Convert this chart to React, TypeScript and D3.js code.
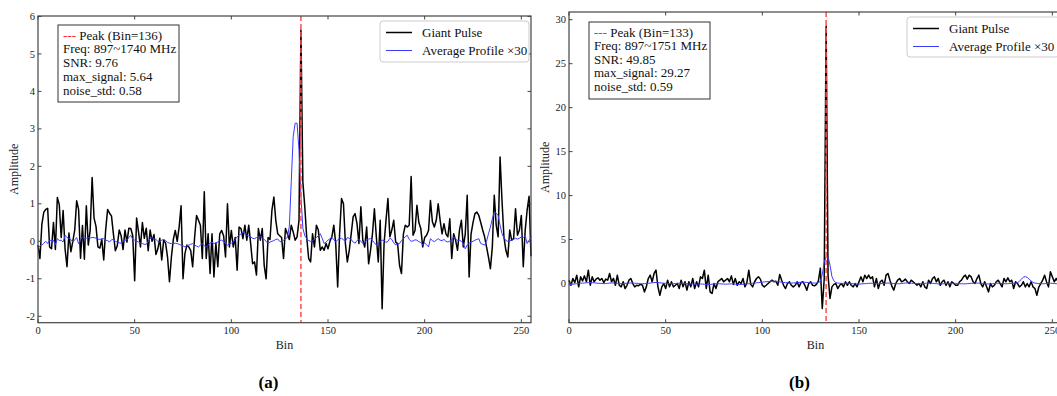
import { useRef, useEffect } from "react";
import * as d3 from "d3";

// Giant pulse profile, panel (a), bins 0..255
const gpA = [
  -0.1, -0.46, 0.45, 0.78, 0.85, 0.88, -0.15, -0.2, 0.5, -0.22, 1.17, 0.98, 0.1, 0.82, -0.2, -0.68,
  0.22, -0.28, 0.0, 0.3, 1.08, 0.85, -0.45, 0.42, -0.48, 0.95, -0.1, 0.3, 1.7, 0.62, 0.4, -0.15,
  -0.18, 0.05, -0.5, 0.3, 0.85, 0.75, 0.68, 0.2, -0.25, -0.12, 0.3, 0.15, -0.22, 0.3, -0.02, 0.35,
  0.34, 0.15, -1.05, 0.62, 0.25, -0.15, 0.5, 0.08, 0.35, -0.25, 0.3, 0.0, 0.18, -0.35, -0.2, 0.08,
  -0.5, 0.03, -0.05, -0.42, -1.08, -0.42, 0.05, 0.29, 0.0, 0.38, 0.95, -1.0, -0.33, -0.1, -0.15, -0.25,
  -0.68, 0.1, 0.69, 0.56, 0.43, -0.46, 1.32, -0.46, 0.2, -0.86, 0.2, -0.95, -0.05, -0.68, 0.2, 0.29,
  0.15, -0.42, 1.0, -0.15, 0.29, -0.15, 0.1, -0.77, 0.38, 0.34, 0.07, 0.43, 0.03, 0.43, -0.06, -0.6,
  -0.55, -0.9, 0.34, 0.03, 0.34, -0.64, -1.0, 0.1, 0.05, 0.83, 1.18, 0.56, 0.2, 0.15, 0.1, -0.46,
  0.34, 0.2, 0.05, 0.43, 0.25, 0.03, 0.12, 0.56, 5.64, 1.58, 0.92, 0.1, -0.46, -0.55, 0.2, -0.15,
  0.43, 0.3, -0.24, -0.15, -0.24, -0.06, -0.2, 0.0, 0.12, 0.43, -0.06, -1.22, 0.2, 1.14, 1.0, -0.06,
  -0.55, -0.24, 0.2, 0.65, 0.74, 0.47, -0.06, 0.92, 0.03, -0.15, 0.38, -0.6, -0.24, 0.2, 0.87, 0.12,
  -0.55, 0.56, -1.8, -0.06, 0.56, 1.14, 0.12, 0.3, 0.56, -0.02, -0.06, -0.64, -0.86, 0.2, 0.43, 0.38,
  0.43, 1.73, 0.16, 0.29, 0.96, 0.5, 0.34, -0.15, 0.1, 0.16, 0.29, 1.09, 0.52, 0.38, 0.56, 1.0,
  0.56, 0.2, 0.47, 0.2, 0.12, 0.6, -0.46, 0.2, 0.03, -0.24, 0.3, 0.56, -0.15, 0.2, 1.23, -0.95,
  0.2, 0.5, 0.74, 0.78, 0.69, 0.5, 0.3, 0.12, -0.15, -0.42, -0.73, -0.15, 1.23, 0.43, 0.12, 2.25,
  1.09, 0.12, -0.24, -0.42, 0.3, 0.03, 0.07, 0.87, 0.16, 0.3, 0.69, -0.68, 0.3, 0.83, 1.2, -0.4,
];

// Average profile x30, panel (a)
const avgA = [
  -0.18, -0.12, -0.1, -0.05, 0.0, -0.06, 0.03, 0.02, 0.03, -0.1, 0.07, 0.02, 0.03, -0.02, 0.16, 0.1,
  0.08, 0.05, -0.02, 0.04, 0.1, -0.06, 0.05, 0.12, 0.06, 0.08, 0.1, 0.09, 0.1, 0.1, 0.08, 0.06,
  0.05, 0.07, 0.07, 0.03, 0.02, -0.02, 0.04, 0.05, 0.0, -0.02, -0.04, -0.05, 0.0, 0.03, 0.04, 0.1,
  0.16, 0.05, 0.03, 0.0, -0.02, -0.05, -0.06, -0.08, -0.08, 0.0, 0.07, 0.1, 0.06, 0.05, 0.0, -0.02,
  0.03, 0.05, 0.02, -0.03, -0.05, -0.06, -0.06, -0.05, -0.06, -0.08, -0.1, -0.12, -0.15, -0.12, -0.1, -0.08,
  -0.06, -0.1, -0.13, -0.15, -0.1, -0.06, -0.12, -0.16, -0.1, -0.05, -0.02, -0.06, -0.04, -0.02, 0.02, 0.03,
  -0.01, -0.05, -0.1, -0.07, -0.05, -0.02, 0.05, 0.12, 0.16, 0.2, 0.25, 0.22, 0.16, 0.14, 0.12, 0.08,
  0.07, 0.1, 0.12, 0.12, 0.09, 0.05, 0.0, -0.06, -0.02, 0.0, 0.02, 0.05, 0.06, 0.0, -0.02, 0.03,
  0.07, 0.1, 0.4, 1.6, 2.8, 3.15, 3.15, 2.43, 1.2, 0.35, 0.15, 0.07, 0.02, 0.0, 0.02, 0.05,
  0.1, 0.15, 0.2, 0.08, -0.06, -0.02, 0.03, 0.07, 0.1, 0.05, -0.02, 0.04, 0.07, 0.08, 0.04, 0.0,
  0.1, 0.08, 0.05, -0.02, -0.05, 0.02, 0.05, 0.0, -0.06, -0.02, 0.03, 0.06, 0.07, 0.02, -0.04, -0.1,
  -0.05, 0.0, 0.03, 0.02, -0.03, 0.0, 0.08, 0.05, -0.04, -0.1, -0.07, -0.06, 0.02, 0.08, 0.12, 0.16,
  0.05, 0.0, 0.01, 0.04, 0.03, -0.01, -0.03, -0.1, -0.05, -0.09, -0.15, 0.07, 0.02, -0.01, 0.03, 0.07,
  0.03, 0.02, 0.05, 0.0, -0.02, 0.01, 0.03, 0.12, 0.06, 0.02, 0.03, 0.0, -0.06, -0.2, -0.1, -0.05,
  -0.02, 0.0, 0.03, 0.05, 0.07, -0.06, -0.08, -0.1, 0.0, 0.2, 0.38, 0.6, 0.78, 0.75, 0.69, 0.43,
  0.2, 0.1, 0.02, 0.0, 0.01, 0.03, 0.05, 0.08, 0.06, 0.08, 0.12, 0.1, 0.14, -0.06, 0.02, 0.1,
];

// Giant pulse profile, panel (b)
const gpB = [
  0.38, -0.2, 0.57, 0.1, 0.95, -0.38, 0.76, 0.3, 0.87, 0.2, 1.52, -0.2, 0.76, 0.2, 0.5, 0.65,
  0.38, 0.57, 0.1, 0.5, 0.38, 1.14, 0.2, 0.57, -0.2, 0.95, -0.2, -0.38, 0.2, -0.57, -0.2, 0.38,
  0.57, 0.0, -0.38, -0.2, -0.25, -0.1, -0.2, -0.95, -0.38, 0.57, 0.95, 0.2, 1.14, 1.52, -0.38, -1.33,
  -0.38, 0.0, -0.57, 0.38, -0.38, 0.2, -0.38, -0.2, 0.0, -0.57, 0.38, -0.38, 0.2, -0.76, 0.2, -0.38,
  0.57, -0.57, 0.2, -0.38, 0.76, 0.57, 1.52, -0.57, 0.95, -0.95, -1.14, 0.0, -0.57, 0.2, 0.38, 0.57,
  0.2, 0.38, 0.57, 0.2, 0.87, -0.1, 0.57, -0.2, 0.2, 0.0, 0.57, -0.38, 0.1, 1.52, -0.1, -0.38,
  0.2, 0.57, 0.76, 0.5, -0.2, -0.38, -0.2, 0.0, 0.2, 0.38, 0.2, 0.27, -0.2, 1.03, 0.38, -0.2,
  -0.57, 0.0, 0.2, -0.2, -0.38, -0.2, 0.2, -0.38, 0.1, 0.2, -0.2, -0.76, 0.0, 0.2, -0.2, -0.27,
  -0.1, 0.3, 1.75, -2.85, 0.5, 29.27, 0.9, -1.7, -0.38, -0.1, 0.0, -0.57, -0.2, 0.0, -0.38, 0.2,
  -0.2, 0.2, -0.2, -0.38, 0.0, -0.38, 0.2, 0.76, 0.2, 0.95, 0.57, 0.95, 0.57, 0.76, -0.38, 0.57,
  -0.57, 0.2, 0.38, -0.2, 0.95, 1.14, 0.38, -0.3, -0.76, 0.0, 0.38, 0.57, 0.2, 0.3, 0.5, 0.2,
  0.0, 0.38, 0.2, 0.0, -0.2, 0.0, -0.38, 0.2, -0.38, -0.57, 0.38, 0.0, 0.57, 0.76, 0.2, 0.57,
  -0.2, 0.2, 0.38, -0.2, 0.2, -0.38, 0.2, 0.0, -0.2, -0.2, 0.2, 0.38, 0.76, 0.95, 0.5, 0.95,
  0.76, 0.2, 0.0, 0.57, 0.95, 0.0, -0.38, 0.2, -0.38, -0.95, 0.0, -0.38, -0.2, 0.2, 0.38, 0.0,
  -0.38, 0.57, 0.2, 0.65, 0.2, 0.38, -0.57, 0.2, 0.0, -0.38, -0.2, 0.2, -0.38, 0.0, -0.38, 0.2,
  -0.38, -0.57, -1.33, -0.4, 0.0, 0.38, 0.95, 0.2, -0.38, 1.33, 0.76, 0.2, 0.57, 0.2, 0.5, -0.2,
];

// Average profile x30, panel (b)
const avgB = [
  -0.15, -0.1, -0.08, -0.05, -0.02, 0.0, 0.03, 0.05, 0.06, 0.08, 0.1, 0.12, 0.1, 0.08, 0.05, 0.03,
  0.02, 0.0, -0.02, 0.0, 0.02, 0.05, 0.06, 0.05, 0.03, 0.02, 0.0, -0.02, 0.0, 0.02, 0.03, 0.05,
  0.06, 0.05, 0.03, 0.02, 0.0, -0.02, -0.03, -0.02, 0.0, 0.02, 0.05, 0.08, 0.1, 0.12, 0.1, 0.08,
  0.05, 0.03, 0.02, 0.0, -0.02, -0.03, -0.02, 0.0, 0.02, 0.03, 0.05, 0.03, 0.0, -0.03, -0.05, -0.06,
  -0.08, -0.1, -0.08, -0.06, -0.05, -0.06, -0.08, -0.1, -0.12, -0.1, -0.08, -0.05, -0.03, -0.02, -0.03, -0.05,
  -0.06, -0.08, -0.06, -0.05, -0.03, -0.05, -0.08, -0.1, -0.12, -0.1, -0.08, -0.06, -0.05, -0.03, 0.0, 0.03,
  0.05, 0.08, 0.1, 0.12, 0.15, 0.18, 0.2, 0.22, 0.25, 0.27, 0.25, 0.22, 0.2, 0.18, 0.15, 0.12,
  0.1, 0.08, 0.06, 0.05, 0.06, 0.08, 0.1, 0.12, 0.14, 0.15, 0.14, 0.12, 0.1, 0.08, 0.06, 0.05,
  0.06, 0.1, 0.25, 1.0, 2.4, 3.05, 3.0, 2.1, 0.8, 0.3, 0.12, 0.06, 0.03, 0.0, 0.02, 0.04,
  0.05, 0.03, 0.0, -0.02, -0.04, -0.05, -0.06, -0.05, -0.03, -0.02, 0.0, 0.02, 0.03, 0.02, 0.0, -0.02,
  -0.03, -0.02, 0.0, 0.02, 0.04, 0.05, 0.04, 0.02, 0.0, -0.02, -0.03, -0.02, 0.0, 0.03, 0.05, 0.06,
  0.05, 0.03, 0.02, 0.0, -0.02, -0.03, -0.02, 0.0, 0.02, 0.04, 0.05, 0.04, 0.02, 0.0, -0.02, -0.04,
  -0.05, -0.04, -0.02, 0.0, 0.02, 0.03, 0.04, 0.03, 0.02, 0.0, -0.02, -0.03, -0.04, -0.03, -0.02, 0.0,
  0.02, 0.03, 0.04, 0.05, 0.04, 0.02, 0.0, -0.02, -0.04, -0.05, -0.04, -0.02, 0.0, 0.02, 0.03, 0.02,
  0.0, -0.02, -0.03, -0.02, 0.0, 0.02, 0.03, 0.05, 0.1, 0.25, 0.5, 0.72, 0.78, 0.7, 0.5, 0.3,
  0.12, 0.05, 0.02, 0.0, -0.02, -0.03, -0.02, 0.0, 0.02, 0.03, 0.02, 0.0, -0.02, -0.03, -0.02, 0.0,
];

const xTicks = [0, 50, 100, 150, 200, 250];
const yTicksA = [-2, -1, 0, 1, 2, 3, 4, 5, 6];
const yTicksB = [0, 5, 10, 15, 20, 25, 30];

const infoA = ["Freq: 897~1740 MHz", "SNR: 9.76", "max_signal: 5.64", "noise_std: 0.58"];
const infoB = ["Freq: 897~1751 MHz", "SNR: 49.85", "max_signal: 29.27", "noise_std: 0.59"];

const legendLabels = ["Giant Pulse", "Average Profile \u00d730"];

const FONT = "'Liberation Serif', 'Times New Roman', serif";
const RED = "#ff4d4d";
const BLUE = "#3a3aff";

type PanelOpts = {
  left: number;
  right: number;
  top: number;
  bottom: number;
  gp: number[];
  avg: number[];
  yTicks: number[];
  peakBin: number;
  info: string[];
  infoBox: { x: number; y: number; w: number; h: number; step: number };
  legendBox: { x: number; y: number; w: number; h: number };
  label: string;
};

function drawPanel(svg: d3.Selection<SVGSVGElement, unknown, null, undefined>, o: PanelOpts) {
  const g = svg.append("g").style("font-family", FONT);

  // matplotlib-style limits: 5% margin round the data
  const lo = Math.min(d3.min(o.gp)!, d3.min(o.avg)!);
  const hi = Math.max(d3.max(o.gp)!, d3.max(o.avg)!);
  const pad = (hi - lo) * 0.05;

  const x = d3.scaleLinear().domain([0, 255]).range([o.left, o.right]);
  const y = d3.scaleLinear().domain([lo - pad, hi + pad]).range([o.bottom, o.top]);

  const line = d3
    .line<number>()
    .x((_, i) => x(i))
    .y((d) => y(d));

  g.append("path")
    .datum(o.gp)
    .attr("d", line)
    .attr("fill", "none")
    .attr("stroke", "#000")
    .attr("stroke-width", 1.5)
    .attr("stroke-linejoin", "round");

  g.append("path")
    .datum(o.avg)
    .attr("d", line)
    .attr("fill", "none")
    .attr("stroke", BLUE)
    .attr("stroke-width", 1)
    .attr("stroke-linejoin", "round");

  g.append("line")
    .attr("x1", x(o.peakBin))
    .attr("x2", x(o.peakBin))
    .attr("y1", o.top)
    .attr("y2", o.bottom)
    .attr("stroke", RED)
    .attr("stroke-width", 1.5)
    .attr("stroke-dasharray", "5,3");

  // frame
  g.append("rect")
    .attr("x", o.left)
    .attr("y", o.top)
    .attr("width", o.right - o.left)
    .attr("height", o.bottom - o.top)
    .attr("fill", "none")
    .attr("stroke", "#444")
    .attr("stroke-width", 1.2);

  const tk = 3.5;
  // x ticks (inward, bottom and top)
  xTicks.forEach((t) => {
    const px = x(t);
    g.append("line").attr("x1", px).attr("x2", px).attr("y1", o.bottom).attr("y2", o.bottom - tk).attr("stroke", "#444");
    g.append("line").attr("x1", px).attr("x2", px).attr("y1", o.top).attr("y2", o.top + tk).attr("stroke", "#444");
    g.append("text")
      .attr("x", px)
      .attr("y", o.bottom + 11)
      .attr("text-anchor", "middle")
      .attr("fill", "#222")
      .style("font-size", "10.5px")
      .text(t);
  });

  o.yTicks.forEach((t) => {
    const py = y(t);
    g.append("line").attr("x1", o.left).attr("x2", o.left + tk).attr("y1", py).attr("y2", py).attr("stroke", "#444");
    g.append("line").attr("x1", o.right).attr("x2", o.right - tk).attr("y1", py).attr("y2", py).attr("stroke", "#444");
    g.append("text")
      .attr("x", o.left - 3)
      .attr("y", py + 3.6)
      .attr("text-anchor", "end")
      .attr("fill", "#222")
      .style("font-size", "10.5px")
      .text(String(t));
  });

  // axis titles
  g.append("text")
    .attr("x", (o.left + o.right) / 2)
    .attr("y", o.bottom + 26)
    .attr("text-anchor", "middle")
    .attr("fill", "#222")
    .style("font-size", "12px")
    .text("Bin");

  g.append("text")
    .attr("transform", `translate(${o.left - 20},${(o.top + o.bottom) / 2}) rotate(-90)`)
    .attr("text-anchor", "middle")
    .attr("fill", "#222")
    .style("font-size", "12px")
    .text("Amplitude");

  // info box
  const ib = o.infoBox;
  g.append("rect")
    .attr("x", ib.x)
    .attr("y", ib.y)
    .attr("width", ib.w)
    .attr("height", ib.h)
    .attr("fill", "#fff")
    .attr("stroke", "#333")
    .attr("stroke-width", 1);

  const first = g
    .append("text")
    .attr("x", ib.x + 5)
    .attr("y", ib.y + 14.5)
    .attr("fill", "#111")
    .style("font-size", "13px");
  first.append("tspan").attr("fill", "#ff2a2a").text("---");
  first.append("tspan").text(` Peak (Bin=${o.peakBin})`);

  o.info.forEach((s, i) => {
    g.append("text")
      .attr("x", ib.x + 5)
      .attr("y", ib.y + 14.5 + (i + 1) * ib.step)
      .attr("fill", "#111")
      .style("font-size", "13px")
      .text(s);
  });

  // legend
  const lb = o.legendBox;
  g.append("rect")
    .attr("x", lb.x)
    .attr("y", lb.y)
    .attr("width", lb.w)
    .attr("height", lb.h)
    .attr("rx", 3)
    .attr("fill", "#fff")
    .attr("fill-opacity", 0.8)
    .attr("stroke", "#ccc");

  [
    { c: "#000", w: 1.5 },
    { c: BLUE, w: 1 },
  ].forEach((s, i) => {
    const ly = lb.y + 11.5 + i * 18;
    g.append("line")
      .attr("x1", lb.x + 6)
      .attr("x2", lb.x + 32)
      .attr("y1", ly)
      .attr("y2", ly)
      .attr("stroke", s.c)
      .attr("stroke-width", s.w);
    g.append("text")
      .attr("x", lb.x + 42)
      .attr("y", ly + 4.5)
      .attr("fill", "#111")
      .style("font-size", "13px")
      .text(legendLabels[i]);
  });

  // sub-figure label
  g.append("text")
    .attr("x", (o.left + o.right) / 2 - 16)
    .attr("y", 388)
    .attr("text-anchor", "middle")
    .attr("fill", "#000")
    .style("font-size", "17px")
    .style("font-weight", "bold")
    .text(o.label);
}

export default function App() {
  const svgRef = useRef<SVGSVGElement>(null);

  useEffect(() => {
    if (!svgRef.current) return;
    const svg = d3.select(svgRef.current);
    svg.selectAll("*").remove();

    svg.append("rect").attr("width", 1057).attr("height", 396).attr("fill", "#fff");

    drawPanel(svg, {
      left: 38,
      right: 531,
      top: 16,
      bottom: 322.7,
      gp: gpA,
      avg: avgA,
      yTicks: yTicksA,
      peakBin: 136,
      info: infoA,
      infoBox: { x: 58, y: 25, w: 121, h: 77, step: 13.9 },
      legendBox: { x: 380, y: 21, w: 149, h: 41 },
      label: "(a)",
    });

    drawPanel(svg, {
      left: 569,
      right: 1062,
      top: 12,
      bottom: 322.7,
      gp: gpB,
      avg: avgB,
      yTicks: yTicksB,
      peakBin: 133,
      info: infoB,
      infoBox: { x: 589, y: 22, w: 121, h: 77, step: 13.6 },
      legendBox: { x: 907, y: 17, w: 152, h: 40 },
      label: "(b)",
    });
  }, []);

  return (
    <svg
      ref={svgRef}
      width={1057}
      height={396}
      style={{ position: "absolute", left: 0, top: 0, display: "block" }}
    />
  );
}
